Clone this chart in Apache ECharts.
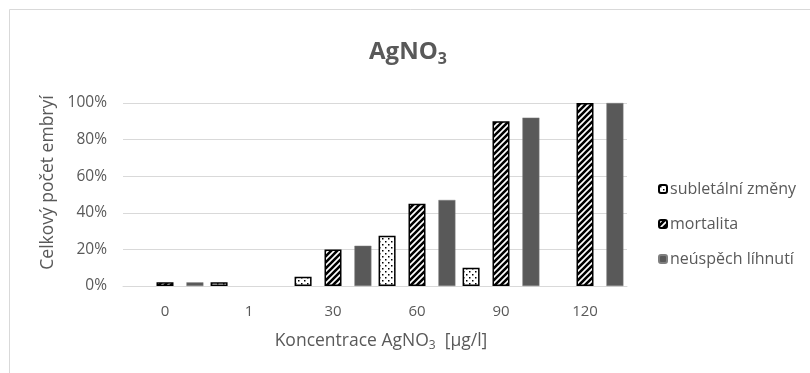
<!DOCTYPE html>
<html>
<head>
<meta charset="utf-8">
<script src="https://cdn.jsdelivr.net/npm/echarts@6/dist/echarts.min.js"></script>
<style>
  html, body { margin: 0; padding: 0; background: #fff; }
  #chart { width: 810px; height: 373px; }
</style>
</head>
<body>
<div id="chart"></div>
<script>
// Concentrations of AgNO3 (µg/l)
const categories = ['0', '1', '30', '60', '90', '120'];
// Share of embryos (%) per effect
const sublethal = [0, 2, 5, 27.5, 10, 0];
const mortality = [2, 0, 20, 45, 90, 100];
const hatchFailure = [2, 0, 22, 47, 92, 100];
const yTicks = [0, 20, 40, 60, 80, 100];

const TEXT = '#595959';
const FONT = 'Open Sans';

// Fill patterns drawn on small tiles
function dotPattern() {
  const c = document.createElement('canvas');
  c.width = 6; c.height = 6;
  const g = c.getContext('2d');
  g.fillStyle = '#fff';
  g.fillRect(0, 0, 6, 6);
  g.fillStyle = '#000';
  g.fillRect(1, 1, 1.5, 1.5);
  g.fillRect(4, 4, 1.5, 1.5);
  return { image: c, repeat: 'repeat' };
}
function hatchPattern() {
  const c = document.createElement('canvas');
  c.width = 6; c.height = 6;
  const g = c.getContext('2d');
  g.fillStyle = '#fff';
  g.fillRect(0, 0, 6, 6);
  g.strokeStyle = '#000';
  g.lineWidth = 2.6;
  g.beginPath();
  g.moveTo(-1, 7); g.lineTo(7, -1);
  g.moveTo(-4, 4); g.lineTo(4, -4);
  g.moveTo(2, 10); g.lineTo(10, 2);
  g.stroke();
  return { image: c, repeat: 'repeat' };
}

// Zero values are left empty so no bar is drawn
const toData = arr => arr.map(v => (v === 0 ? null : v));

const chart = echarts.init(document.getElementById('chart'), null, { renderer: 'canvas' });

chart.setOption({
  animation: false,
  backgroundColor: '#fff',
  textStyle: { fontFamily: FONT, color: TEXT },
  graphic: [{
    type: 'rect',
    shape: { x: 9.5, y: 9.5, width: 900, height: 500 },
    style: { fill: 'none', stroke: '#d9d9d9', lineWidth: 1 },
    silent: true
  }],
  title: {
    text: '{a|AgNO}{s|3}',
    left: 403,
    textAlign: 'center',
    top: 32,
    textStyle: {
      rich: {
        a: { fontFamily: FONT, fontSize: 24, fontWeight: 'bold', color: TEXT },
        s: { fontFamily: FONT, fontSize: 16, fontWeight: 'bold', color: TEXT, padding: [14, 0, 0, 0] }
      }
    }
  },
  legend: {
    orient: 'vertical',
    left: 653,
    top: 176,
    itemWidth: 8,
    itemHeight: 8,
    itemGap: 19,
    textStyle: { fontFamily: FONT, fontSize: 16, color: TEXT, padding: [0, 0, 0, -2] },
    data: ['subletální změny', 'mortalita', 'neúspěch líhnutí']
  },
  grid: { left: 123, right: 183, top: 103, bottom: 87 },
  xAxis: {
    type: 'category',
    data: categories,
    axisLine: { lineStyle: { color: '#d9d9d9', width: 1 } },
    axisTick: { show: false },
    axisLabel: { fontFamily: FONT, fontSize: 15, color: TEXT, margin: 18 },
    name: '{a|Koncentrace AgNO}{s|3}{a|  [µg/l]}',
    nameLocation: 'middle',
    nameGap: 45,
    nameTextStyle: {
      padding: [0, 0, 0, 12],
      rich: {
        a: { fontFamily: FONT, fontSize: 17.5, color: TEXT },
        s: { fontFamily: FONT, fontSize: 12, color: TEXT, padding: [9, 0, 0, 0] }
      }
    }
  },
  yAxis: {
    type: 'value',
    min: yTicks[0],
    max: yTicks[yTicks.length - 1],
    interval: 20,
    axisLine: { show: false },
    axisTick: { show: false },
    splitLine: { lineStyle: { color: '#d9d9d9', width: 1 } },
    axisLabel: { fontFamily: FONT, fontSize: 15.5, color: TEXT, margin: 16, formatter: '{value}%' },
    name: 'Celkový počet embryí',
    nameLocation: 'middle',
    nameGap: 64,
    nameTextStyle: { fontFamily: FONT, fontSize: 17.5, color: TEXT, padding: [0, 0, 0, 24] }
  },
  series: [
    {
      name: 'subletální změny',
      type: 'bar',
      data: toData(sublethal),
      barWidth: 17,
      barGap: '76%',
      itemStyle: { color: dotPattern(), borderColor: '#000', borderWidth: 1.5 }
    },
    {
      name: 'mortalita',
      type: 'bar',
      data: toData(mortality),
      barWidth: 17,
      barGap: '76%',
      itemStyle: { color: hatchPattern(), borderColor: '#000', borderWidth: 1.5 }
    },
    {
      name: 'neúspěch líhnutí',
      type: 'bar',
      data: toData(hatchFailure),
      barWidth: 17,
      barGap: '76%',
      itemStyle: { color: '#595959', borderColor: '#7f7f7f', borderWidth: 0.5 }
    }
  ]
});
</script>
</body>
</html>
